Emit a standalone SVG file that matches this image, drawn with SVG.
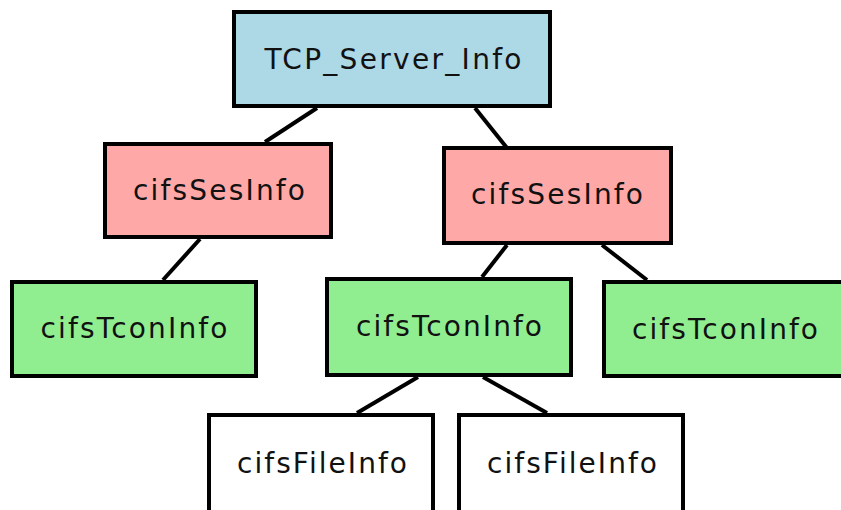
<svg xmlns="http://www.w3.org/2000/svg" width="841" height="510" viewBox="0 0 841 510">
<style>
.box{stroke:#000;stroke-width:4}
.lbl{font-family:"DejaVu Sans",sans-serif;font-size:28px;fill:#111;text-anchor:middle}
.edge{stroke:#000;stroke-width:4;fill:none}
</style>
<rect width="841" height="510" fill="#fff"/>
<g id="connectors">
<line class="edge" x1="317" y1="108" x2="265" y2="142"/>
<line class="edge" x1="475" y1="108" x2="507" y2="148"/>
<line class="edge" x1="200" y1="239" x2="163" y2="280"/>
<line class="edge" x1="507" y1="245" x2="482" y2="277"/>
<line class="edge" x1="602" y1="245" x2="647" y2="280"/>
<line class="edge" x1="418" y1="377" x2="357" y2="413"/>
<line class="edge" x1="483" y1="377" x2="547" y2="413"/>
</g>
<g id="tcp">
<rect class="box" x="234" y="12" width="316" height="94" fill="#add8e6"/>
<text class="lbl" x="393" y="69" textLength="257" lengthAdjust="spacing">TCP_Server_Info</text>
</g>
<g id="ses1">
<rect class="box" x="105" y="144" width="226" height="93" fill="#ffa8a8"/>
<text class="lbl" x="219" y="200" textLength="172" lengthAdjust="spacing">cifsSesInfo</text>
</g>
<g id="ses2">
<rect class="box" x="444" y="148" width="227" height="95" fill="#ffa8a8"/>
<text class="lbl" x="557" y="204" textLength="172" lengthAdjust="spacing">cifsSesInfo</text>
</g>
<g id="tcon1">
<rect class="box" x="12" y="282" width="244" height="94" fill="#90ee90"/>
<text class="lbl" x="134" y="338" textLength="187" lengthAdjust="spacing">cifsTconInfo</text>
</g>
<g id="tcon2">
<rect class="box" x="327" y="279" width="244" height="96" fill="#90ee90"/>
<text class="lbl" x="449" y="336" textLength="186" lengthAdjust="spacing">cifsTconInfo</text>
</g>
<g id="tcon3">
<rect class="box" x="604" y="282" width="240" height="94" fill="#90ee90"/>
<text class="lbl" x="725" y="339" textLength="186" lengthAdjust="spacing">cifsTconInfo</text>
</g>
<g id="file1">
<rect class="box" x="209" y="415" width="224" height="100" fill="#fff"/>
<text class="lbl" x="322" y="473" textLength="170" lengthAdjust="spacing">cifsFileInfo</text>
</g>
<g id="file2">
<rect class="box" x="459" y="415" width="224" height="100" fill="#fff"/>
<text class="lbl" x="572" y="473" textLength="170" lengthAdjust="spacing">cifsFileInfo</text>
</g>
</svg>
